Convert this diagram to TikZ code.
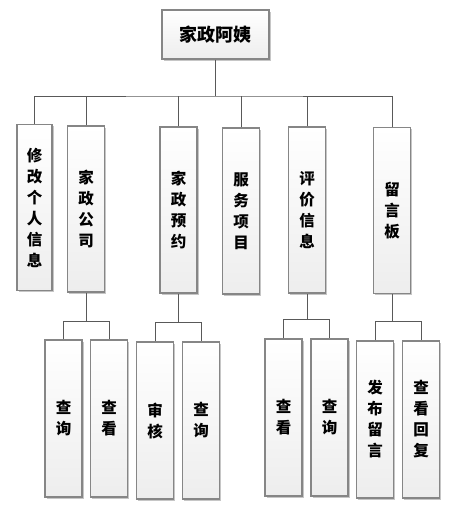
\documentclass[tikz,border=0pt]{standalone}
\usepackage{fontspec}
\setmainfont{Noto Sans CJK SC}
\usetikzlibrary{shadows}

\tikzset{
  box/.style={draw=gray!95, line width=1.1pt, top color=white, bottom color=gray!14,
    drop shadow={shadow xshift=1.6pt, shadow yshift=-1.6pt, fill=gray!45, opacity=1},
    align=center, inner sep=0pt, font=\bfseries\fontsize{15.5}{21}\selectfont},
  topbox/.style={box, minimum width=107pt, minimum height=49pt,
    font=\bfseries\fontsize{18}{20}\selectfont},
  mainbox/.style={box, minimum width=37pt, minimum height=166pt},
  subbox/.style={box, minimum width=37pt, minimum height=157pt},
  link/.style={draw=black!65, line width=0.9pt}
}

\begin{document}
\begin{tikzpicture}[x=1pt, y=-1pt]
  \useasboundingbox (0,0) rectangle (455,510);

  % top
  \node[topbox] (aunt) at (215.5, 34.5) {家政阿姨};

  % first level
  \node[mainbox, minimum width=35pt] (info) at (34.5, 207.5) {修\\改\\个\\人\\信\\息};
  \node[mainbox] (company) at (86, 209) {家\\政\\公\\司};
  \node[mainbox] (booking) at (178.5, 210) {家\\政\\预\\约};
  \node[mainbox] (service) at (241, 211) {服\\务\\项\\目};
  \node[mainbox] (review) at (307, 210) {评\\价\\信\\息};
  \node[mainbox] (board) at (392, 210.5) {留\\言\\板};

  % second level
  \node[subbox] (compq) at (63.5, 418.5) {查\\询};
  \node[subbox] (compv) at (109, 418.5) {查\\看};
  \node[subbox] (bookaudit) at (155, 420.5) {审\\核};
  \node[subbox] (bookq) at (201, 420.5) {查\\询};
  \node[subbox] (reviewv) at (283.5, 417.5) {查\\看};
  \node[subbox] (reviewq) at (329.5, 417.5) {查\\询};
  \node[subbox] (boardpost) at (375, 419.5) {发\\布\\留\\言};
  \node[subbox] (boardreply) at (421, 419.5) {查\\看\\回\\复};

  % connectors, first level
  \coordinate (bus) at (215.5, 96);
  \draw[link] (aunt.south) -- (bus);
  \draw[link] (info.north) |- (bus) -| (board.north);
  \foreach \Child in {company, booking, service, review}{
    \draw[link] (\Child.north) -- (\Child.north |- bus);
  }

  % connectors, second level
  \foreach \Parent/\Left/\Right/\Y in {company/compq/compv/321, booking/bookaudit/bookq/322,
      review/reviewv/reviewq/319, board/boardpost/boardreply/321}{
    \coordinate (\Parent-bus) at (0, \Y);
    \draw[link] (\Parent.south) -- (\Parent.south |- \Parent-bus);
    \draw[link] (\Left.north) |- (\Parent-bus -| \Right.north) -- (\Right.north);
  }
\end{tikzpicture}
\end{document}
